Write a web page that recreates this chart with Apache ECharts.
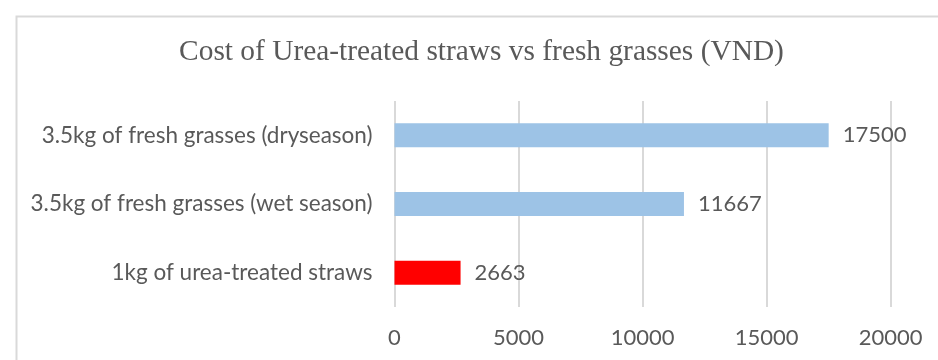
<!DOCTYPE html>
<html>
<head>
<meta charset="utf-8">
<script src="https://cdn.jsdelivr.net/npm/echarts@6/dist/echarts.min.js"></script>
<style>
  html, body { margin: 0; padding: 0; background: #ffffff; }
  #chart { width: 938px; height: 360px; }
</style>
</head>
<body>
<div id="chart"></div>
<script>
// Feed options, listed top to bottom
const categories = [
  '3.5kg of fresh grasses (dryseason)',
  '3.5kg of fresh grasses (wet season)',
  '1kg of urea-treated straws'
];
const costs = [17500, 11667, 2663];
const barColors = ['#9DC3E6', '#9DC3E6', '#FF0000'];
const xTicks = [0, 5000, 10000, 15000, 20000];

const textColor = '#595959';
const labelFont = 'Lato, "Open Sans", sans-serif';

const chart = echarts.init(document.getElementById('chart'), null, { renderer: 'canvas' });

chart.setOption({
  backgroundColor: '#ffffff',
  animation: false,
  graphic: [
    {
      type: 'rect',
      left: 14, top: 14,
      shape: { width: 960, height: 400 },
      style: { fill: 'none', stroke: '#d9d9d9', lineWidth: 2 },
      silent: true
    },
    {
      type: 'text',
      x: 481.5, y: 52,
      style: {
        text: 'Cost of Urea-treated straws vs fresh grasses (VND)',
        font: '29.4px "Liberation Serif", "Times New Roman", serif',
        fill: textColor,
        textAlign: 'center',
        textVerticalAlign: 'middle'
      },
      silent: true
    }
  ],
  grid: { left: 394.5, right: 47.3, top: 101, bottom: 53, containLabel: false },
  xAxis: {
    type: 'value',
    min: xTicks[0],
    max: xTicks[xTicks.length - 1],
    interval: xTicks[1] - xTicks[0],
    axisLine: { show: false },
    axisTick: { show: false },
    axisLabel: {
      color: textColor,
      fontFamily: labelFont,
      fontSize: 22,
      margin: 20,
      formatter: v => String(v)
    },
    splitLine: { show: true, lineStyle: { color: '#d9d9d9', width: 2 } }
  },
  yAxis: {
    type: 'category',
    data: categories,
    inverse: true,
    axisLine: { show: false },
    axisTick: { show: false },
    axisLabel: {
      color: textColor,
      fontFamily: labelFont,
      fontSize: 22.5,
      margin: 22
    }
  },
  series: [{
    type: 'bar',
    data: costs.map((v, i) => ({ value: v, itemStyle: { color: barColors[i] } })),
    barWidth: '35%',
    label: {
      show: true,
      position: 'right',
      distance: 14,
      color: textColor,
      fontFamily: labelFont,
      fontSize: 22
    }
  }]
});
</script>
</body>
</html>
